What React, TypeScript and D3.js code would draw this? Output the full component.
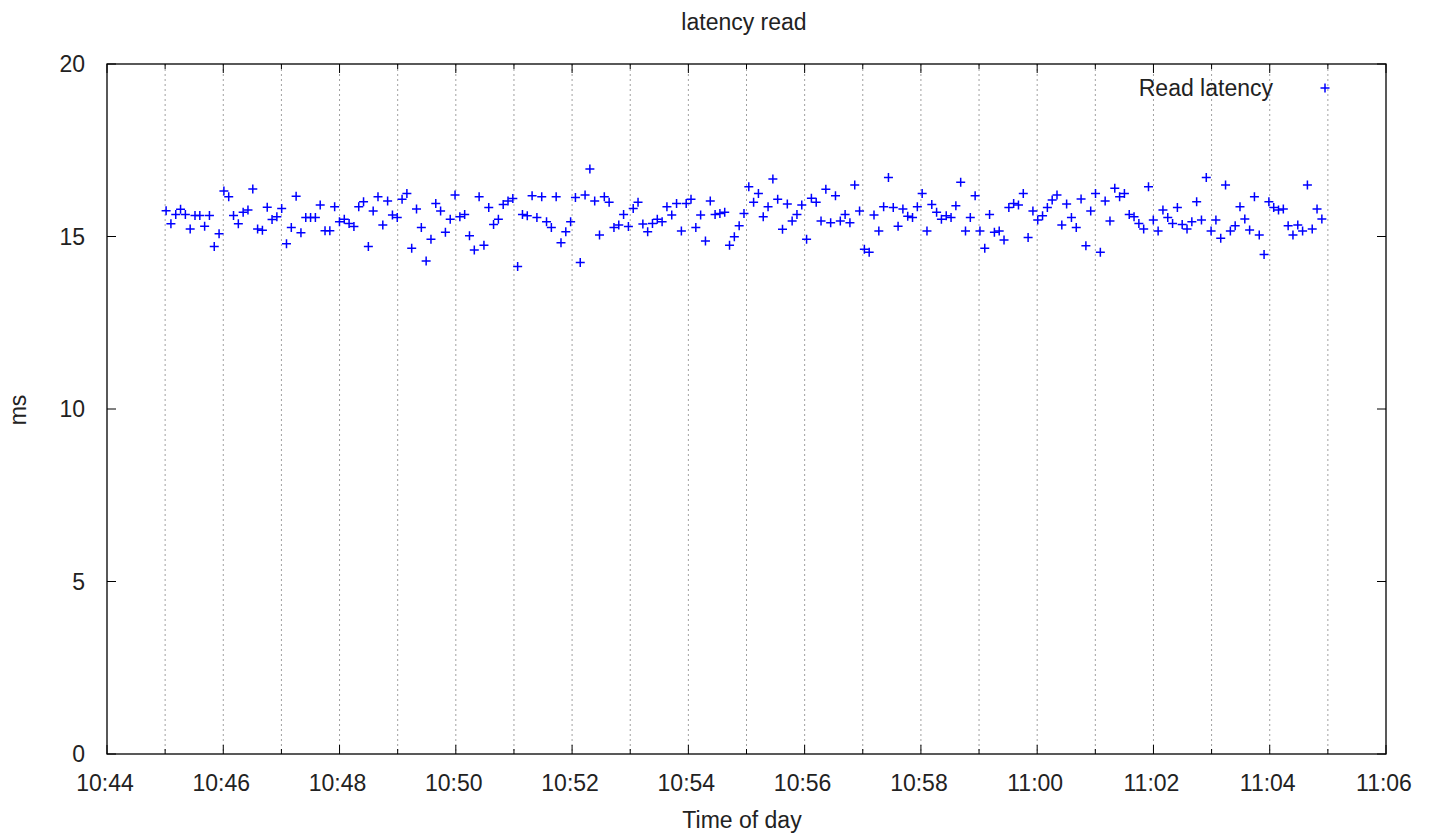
import { useEffect, useRef } from "react"
import * as d3 from "d3"

// read latency samples (ms), one every ~5 s starting 10:45:01
const readLatency = [
  15.75, 15.37, 15.64, 15.79, 15.64, 15.22, 15.61, 15.61, 15.3, 15.61, 14.71, 15.08,
  16.32, 16.15, 15.61, 15.37, 15.7, 15.77, 16.38, 15.22, 15.18, 15.85, 15.49, 15.57,
  15.81, 14.79, 15.26, 16.17, 15.11, 15.55, 15.55, 15.55, 15.91, 15.17, 15.17, 15.86,
  15.43, 15.5, 15.38, 15.29, 15.86, 16.01, 14.71, 15.74, 16.15, 15.33, 16.03, 15.62,
  15.55, 16.08, 16.25, 14.66, 15.8, 15.26, 14.29, 14.92, 15.96, 15.74, 15.12, 15.5,
  16.2, 15.57, 15.64, 15.02, 14.61, 16.15, 14.75, 15.84, 15.35, 15.5, 15.93, 16.03,
  16.1, 14.13, 15.64, 15.6, 16.18, 15.55, 16.15, 15.43, 15.26, 16.15, 14.82, 15.14,
  15.43, 16.13, 14.25, 16.2, 16.96, 16.03, 15.04, 16.15, 15.99, 15.26, 15.33, 15.64,
  15.29, 15.81, 15.99, 15.36, 15.14, 15.38, 15.5, 15.43, 15.86, 15.62, 15.96, 15.16,
  15.96, 16.08, 15.26, 15.62, 14.87, 16.03, 15.64, 15.67, 15.7, 14.75, 14.99, 15.31,
  15.67, 16.44, 15.99, 16.25, 15.57, 15.86, 16.67, 16.08, 15.21, 15.94, 15.45, 15.64,
  15.91, 14.92, 16.11, 15.99, 15.45, 16.37, 15.4, 16.18, 15.45, 15.64, 15.4, 16.49,
  15.74, 14.63, 14.54, 15.62, 15.16, 15.86, 16.71, 15.84, 15.3, 15.8, 15.59, 15.55,
  15.86, 16.25, 15.16, 15.93, 15.7, 15.5, 15.6, 15.55, 15.89, 16.57, 15.16, 15.55,
  16.18, 15.16, 14.66, 15.64, 15.12, 15.16, 14.9, 15.84, 15.96, 15.91, 16.25, 14.97,
  15.74, 15.48, 15.6, 15.84, 16.06, 16.2, 15.33, 15.94, 15.55, 15.26, 16.09, 14.73,
  15.74, 16.25, 14.54, 16.03, 15.45, 16.4, 16.15, 16.25, 15.64, 15.57, 15.38, 15.22,
  16.44, 15.48, 15.16, 15.77, 15.55, 15.38, 15.84, 15.35, 15.22, 15.43, 16.01, 15.48,
  16.71, 15.16, 15.48, 14.95, 16.49, 15.16, 15.31, 15.86, 15.51, 15.19, 16.15, 15.04,
  14.48, 16.01, 15.84, 15.77, 15.8, 15.31, 15.04, 15.33, 15.16, 16.49, 15.22, 15.8,
  15.51,
]
const firstSample = new Date(2000, 0, 1, 10, 45, 1)
const sampleSeconds = 4.97
const xDomain = [new Date(2000, 0, 1, 10, 44), new Date(2000, 0, 1, 11, 6)]
const yTicks = [0, 5, 10, 15, 20]

const W = 1434
const H = 835
const MARGIN = { top: 64, right: 48, bottom: 81, left: 107 }
const FONT = "'Liberation Sans', Arial, sans-serif"
const FONT_SIZE = "23px"

export default function App() {
  const svgRef = useRef<SVGSVGElement>(null)

  useEffect(() => {
    if (!svgRef.current) return
    const svg = d3.select(svgRef.current)
    svg.selectAll("*").remove()

    const w = W - MARGIN.left - MARGIN.right
    const h = H - MARGIN.top - MARGIN.bottom
    const g = svg.append("g").attr("transform", `translate(${MARGIN.left},${MARGIN.top})`)

    const x = d3.scaleTime().domain(xDomain).range([0, w])
    const y = d3.scaleLinear().domain([0, 20]).range([h, 0])

    const minutes = d3.timeMinute.range(xDomain[0], new Date(+xDomain[1] + 1))
    const majors = minutes.filter((d) => d.getMinutes() % 2 === 0)
    const fmt = d3.timeFormat("%H:%M")

    // vertical grid at every minute
    g.append("g")
      .selectAll("line")
      .data(minutes.slice(1, -1))
      .join("line")
      .attr("x1", (d) => x(d))
      .attr("x2", (d) => x(d))
      .attr("y1", 0)
      .attr("y2", h)
      .attr("stroke", "#a0a0a0")
      .attr("stroke-width", 1)
      .attr("stroke-dasharray", "2,3")

    // ticks, pointing inward on all four sides
    const ticks = g.append("g").attr("stroke", "#000").attr("stroke-width", 1)
    minutes.forEach((d) => {
      const len = d.getMinutes() % 2 === 0 ? 9 : 5
      ticks.append("line").attr("x1", x(d)).attr("x2", x(d)).attr("y1", h).attr("y2", h - len)
      ticks.append("line").attr("x1", x(d)).attr("x2", x(d)).attr("y1", 0).attr("y2", len)
    })
    yTicks.forEach((v) => {
      ticks.append("line").attr("x1", 0).attr("x2", 9).attr("y1", y(v)).attr("y2", y(v))
      ticks.append("line").attr("x1", w).attr("x2", w - 9).attr("y1", y(v)).attr("y2", y(v))
    })

    // frame
    g.append("rect")
      .attr("width", w)
      .attr("height", h)
      .attr("fill", "none")
      .attr("stroke", "#000")
      .attr("stroke-width", 1.3)

    // tick labels
    g.append("g")
      .selectAll("text")
      .data(majors)
      .join("text")
      .attr("x", (d) => x(d) - 2)
      .attr("y", h + 37)
      .attr("text-anchor", "middle")
      .attr("font-family", FONT)
      .attr("font-size", FONT_SIZE)
      .attr("fill", "#222")
      .text((d) => fmt(d))

    g.append("g")
      .selectAll("text")
      .data(yTicks)
      .join("text")
      .attr("x", -22)
      .attr("y", (d) => y(d))
      .attr("dy", "0.36em")
      .attr("text-anchor", "end")
      .attr("font-family", FONT)
      .attr("font-size", FONT_SIZE)
      .attr("fill", "#222")
      .text((d) => d)

    // titles
    svg.append("text")
      .attr("x", 744)
      .attr("y", 30)
      .attr("text-anchor", "middle")
      .attr("font-family", FONT)
      .attr("font-size", FONT_SIZE)
      .attr("fill", "#222")
      .text("latency read")
    svg.append("text")
      .attr("x", 742)
      .attr("y", 828)
      .attr("text-anchor", "middle")
      .attr("font-family", FONT)
      .attr("font-size", FONT_SIZE)
      .attr("fill", "#222")
      .text("Time of day")
    svg.append("text")
      .attr("transform", "translate(26,410) rotate(-90)")
      .attr("text-anchor", "middle")
      .attr("font-family", FONT)
      .attr("font-size", FONT_SIZE)
      .attr("fill", "#222")
      .text("ms")

    // points
    const cross = "M-4.5,0H4.5M0,-4.5V4.5"
    g.append("g")
      .selectAll("path")
      .data(readLatency)
      .join("path")
      .attr("transform", (d, i) => `translate(${x(new Date(+firstSample + i * sampleSeconds * 1000))},${y(d)})`)
      .attr("d", cross)
      .attr("stroke", "#0000ff")
      .attr("stroke-width", 1.5)
      .attr("fill", "none")

    // legend
    const legend = svg.append("g").attr("transform", "translate(1273,88)")
    legend.append("text")
      .attr("x", 0)
      .attr("dy", "0.36em")
      .attr("text-anchor", "end")
      .attr("font-family", FONT)
      .attr("font-size", FONT_SIZE)
      .attr("fill", "#222")
      .text("Read latency")
    legend.append("path")
      .attr("transform", "translate(52,0)")
      .attr("d", cross)
      .attr("stroke", "#0000ff")
      .attr("stroke-width", 1.5)
  }, [])

  return (
    <svg
      ref={svgRef}
      width={W}
      height={H}
      style={{ position: "absolute", left: 0, top: 0, background: "#fff" }}
    />
  )
}
